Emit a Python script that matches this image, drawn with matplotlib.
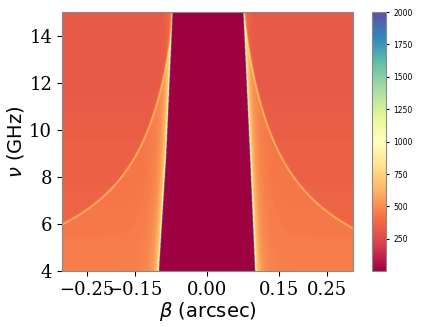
import numpy as np
import matplotlib
matplotlib.use("Agg")
import matplotlib.pyplot as plt

# ---- data ----
nu_edge = [4.0, 8.9, 15.0]                     # GHz
edge_left = [-0.100, -0.085, -0.0715]          # arcsec, left boundary of the dark core
edge_right = [0.098, 0.0875, 0.0736]           # arcsec, right boundary of the dark core

nu_caus_left = [5.9, 6.04, 7.45, 8.3, 9.45, 11.6, 13.7, 15.0]
beta_caus_left = [-0.300, -0.290, -0.223, -0.168, -0.133, -0.092, -0.077, -0.072]
nu_caus_right = [5.83, 7.0, 8.0, 9.45, 11.6, 13.7, 15.0]
beta_caus_right = [0.304, 0.221, 0.172, 0.140, 0.108, 0.083, 0.074]

core_level = 3.0
outer_level = 325.0
inner_level = 430.0
caustic_level = 630.0
edge_level = 2000.0

xticks = [-0.25, -0.15, 0.00, 0.15, 0.25]
yticks = [4, 6, 8, 10, 12, 14]
cticks = [250, 500, 750, 1000, 1250, 1500, 1750, 2000]

# ---- build the field ----
bmin, bmax, nmin, nmax = -0.302, 0.304, 4.0, 15.0
beta = np.linspace(bmin, bmax, 1000)
nu = np.linspace(nmin, nmax, 600)
B, N = np.meshgrid(beta, nu)
px_b, px_n = 480.0, 23.5   # pixels per unit, for line thickness

wl = np.interp(N, nu_edge, edge_left)
wr = np.interp(N, nu_edge, edge_right)


def side(Bs, nu_c, beta_c, w):
    nu_c = np.asarray(nu_c, float)
    ab = np.abs(np.asarray(beta_c, float))
    # smooth curve through the read caustic points (fit in log space)
    coef = np.polyfit(np.log(nu_c), np.log(ab), 2)
    numin = nu_c.min() - 0.3
    bc = np.where(N >= numin, np.exp(np.polyval(coef, np.log(np.maximum(N, numin)))), 10.0)
    dense_nu = np.linspace(numin, 15.0, 800)
    dense_b = np.exp(np.polyval(coef, np.log(dense_nu)))
    order = np.argsort(dense_b)
    nc = np.interp(Bs, dense_b[order], dense_nu[order], left=100.0, right=-100.0)
    h = (Bs - bc) * px_b
    v = (N - nc) * px_n
    dist = np.abs(h * v) / np.sqrt(h ** 2 + v ** 2 + 1e-9)
    below = Bs < bc
    d = Bs - w
    base = np.where(below, inner_level + 25 * (8 - N).clip(0, None) / 4,
                    outer_level + 8 * (12 - N).clip(0, None))
    val = base
    val = val + (caustic_level - base) * np.exp(-(dist / 0.9) ** 2)
    val = val + 900 * np.exp(-d / 0.0012) + 300 * np.exp(-d / 0.005) \
        + 200 * np.exp(-d / 0.015) * below
    return val


vl = side(-B, nu_caus_left, beta_caus_left, -wl)
vr = side(B, nu_caus_right, beta_caus_right, wr)
Z = np.where(B < 0, vl, vr)
core = (B > wl) & (B < wr)
Z = np.where(core, core_level, Z)
rim = (~core) & (np.minimum(np.abs(B - wl), np.abs(B - wr)) < 0.0012)
Z = np.where(rim, edge_level, Z)
Z = np.clip(Z, core_level, edge_level)

# ---- plot ----
fig = plt.figure(figsize=(4.36, 3.27), dpi=100)
ax = fig.add_axes([0.142, 0.171, 0.668, 0.792])
cax = fig.add_axes([0.853, 0.171, 0.032, 0.792])

im = ax.imshow(Z, extent=[bmin, bmax, nmin, nmax], origin='lower', aspect='auto',
               cmap='Spectral', vmin=1, vmax=2000, interpolation='antialiased')
ax.set_xlim(bmin, bmax)
ax.set_ylim(nmin, nmax)
ax.set_xticks(xticks)
ax.set_xticklabels([f"{t:.2f}".replace('-', '\u2212') for t in xticks], family='DejaVu Serif', fontsize=13)
ax.set_yticks(yticks)
ax.set_yticklabels([str(t) for t in yticks], family='DejaVu Serif', fontsize=13)
ax.set_xlabel(r'$\beta$ (arcsec)', fontsize=14, labelpad=1)
ax.set_ylabel(r'$\nu$ (GHz)', fontsize=14, labelpad=2)
for s in ax.spines.values():
    s.set_edgecolor('#8a8a8a')

cb = fig.colorbar(im, cax=cax, ticks=cticks)
cb.ax.tick_params(labelsize=5.5, length=2)
cb.outline.set_edgecolor('#8a8a8a')

fig.savefig('out.png', dpi=100)
